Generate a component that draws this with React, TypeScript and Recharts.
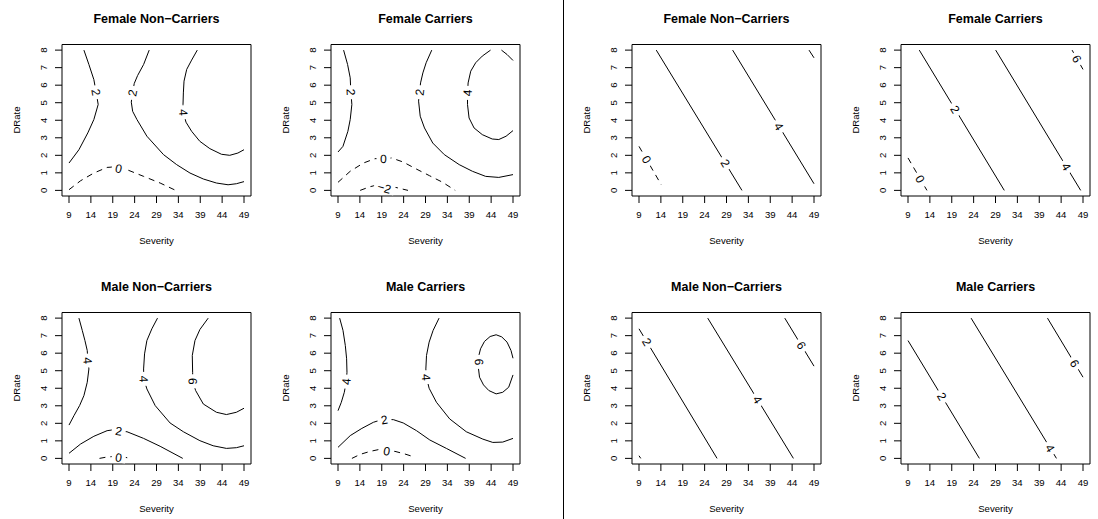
import React from "react";
import { ComposedChart, Line, Scatter, XAxis, YAxis, ReferenceArea } from "recharts";

type Pt = [number, number];
type Lab = [number, number, string];

const severityTicks = [9, 14, 19, 24, 29, 34, 39, 44, 49];
const drateTicks = [0, 1, 2, 3, 4, 5, 6, 7, 8];

// ---- left figure, Female Non-Carriers
const lfn2a: Pt[] = [[12.41, 8], [13.55, 7.18], [14.68, 6.32], [15.2, 5.6], [15.67, 4.9], [14.68, 4.04], [13.3, 3.28], [11.27, 2.32], [9.0, 1.56]];
const lfn2b: Pt[] = [[27.33, 8], [26.05, 7.18], [24.68, 6.55], [23.92, 6.1], [23.5, 5.56], [23.24, 5.03], [23.55, 4.51], [24.53, 4.04], [26.8, 3.09], [30.6, 2.04], [33.6, 1.47], [36.65, 0.99], [39.7, 0.65], [42.7, 0.42], [45.36, 0.32], [47.26, 0.38], [49.0, 0.5]];
const lfn4: Pt[] = [[38.32, 8], [37.03, 7.43], [35.9, 6.9], [35.29, 6.23], [35.14, 5.56], [35.06, 4.9], [35.15, 4.45], [35.74, 3.89], [37.03, 3.37], [38.9, 2.8], [41.2, 2.38], [43.85, 2.06], [45.74, 2.0], [47.6, 2.13], [49.0, 2.32]];
const lfn0: Pt[] = [[9.0, 0.04], [11.65, 0.55], [14.68, 0.99], [17.7, 1.31], [18.85, 1.33], [20.36, 1.25], [22.26, 1.18], [26.05, 0.8], [29.83, 0.42], [33.39, 0]];
const lfnLabels: Lab[] = [[15.2, 5.6, "2"], [23.5, 5.56, "2"], [35.15, 4.45, "4"], [20.36, 1.25, "0"]];

// ---- left figure, Female Carriers
const lfc2a: Pt[] = [[10.28, 8], [11.19, 7.18], [11.79, 6.42], [11.94, 5.6], [12.17, 4.9], [11.79, 4.04], [11.26, 3.37], [10.13, 2.51], [9.0, 2.19]];
const lfc2b: Pt[] = [[30.43, 8], [29.15, 7.28], [28.4, 6.7], [27.87, 6.13], [27.64, 5.6], [27.42, 5.09], [27.79, 4.23], [28.77, 3.56], [30.66, 2.7], [33.3, 2.04], [36.7, 1.47], [39.72, 1.09], [42.74, 0.8], [45.75, 0.74], [49.0, 0.9]];
const lfc4a: Pt[] = [[43.87, 8], [41.98, 7.66], [40.47, 7.28], [39.34, 6.8], [38.74, 6.13], [38.6, 5.56], [38.6, 4.9], [38.96, 4.13], [40.1, 3.56], [41.98, 3.18], [44.25, 2.93], [45.75, 2.9], [47.42, 3.09], [49.0, 3.41]];
const lfc4b: Pt[] = [[46.36, 8], [47.64, 7.75], [49.0, 7.41]];
const lfc0: Pt[] = [[9.0, 0.46], [11.79, 1.09], [14.81, 1.56], [17.45, 1.81], [19.4, 1.8], [21.23, 1.85], [23.87, 1.62], [26.89, 1.22], [29.9, 0.84], [32.92, 0.46], [35.79, 0]];
const lfcm2: Pt[] = [[14.06, 0], [16.32, 0.21], [17.68, 0.29], [19.6, 0.15], [22.2, 0.17], [25.0, 0]];
const lfcLabels: Lab[] = [[11.94, 5.6, "2"], [27.64, 5.6, "2"], [38.6, 5.56, "4"], [19.4, 1.8, "0"], [19.6, 0.15, "\u22122"]];

// ---- left figure, Male Non-Carriers
const lmn4a: Pt[] = [[11.27, 8], [12.03, 7.3], [12.64, 6.72], [13.17, 6.15], [13.32, 5.58], [13.55, 5.1], [13.17, 4.34], [12.41, 3.58], [11.42, 3.01], [10.14, 2.44], [9.0, 1.9]];
const lmn4b: Pt[] = [[29.23, 8], [27.94, 7.39], [26.8, 6.72], [26.27, 5.96], [26.05, 5.1], [26.1, 4.53], [26.8, 3.96], [28.7, 3.01], [32.1, 2.02], [35.14, 1.52], [38.92, 1.01], [41.95, 0.72], [44.98, 0.57], [47.26, 0.61], [49.0, 0.72]];
const lmn6: Pt[] = [[40.82, 8], [38.92, 7.35], [37.79, 6.72], [37.18, 5.87], [37.26, 4.91], [37.3, 4.4], [37.94, 3.87], [39.7, 3.1], [42.7, 2.63], [44.98, 2.5], [47.26, 2.63], [49.0, 2.86]];
const lmn2: Pt[] = [[9.0, 0.29], [11.65, 0.82], [14.68, 1.26], [17.71, 1.58], [18.85, 1.62], [20.36, 1.56], [22.26, 1.52], [26.05, 1.14], [29.83, 0.69], [35.0, 0]];
const lmn0: Pt[] = [[15.97, 0], [17.71, 0.08], [18.85, 0.1], [20.36, 0.05], [21.88, 0.06], [23.0, 0]];
const lmnLabels: Lab[] = [[13.32, 5.58, "4"], [26.1, 4.53, "4"], [37.3, 4.4, "6"], [20.36, 1.56, "2"], [20.36, 0.05, "0"]];

// ---- left figure, Male Carriers
const lmc4a: Pt[] = [[9.38, 8], [10.14, 7.3], [10.67, 6.44], [10.97, 5.68], [11.05, 4.91], [10.89, 4.38], [10.44, 3.77], [9.76, 3.2], [9.0, 2.72]];
const lmc4b: Pt[] = [[32.1, 8], [30.74, 7.3], [29.83, 6.63], [29.23, 5.87], [29.08, 5.1], [29.2, 4.63], [29.83, 4.0], [31.5, 3.2], [34.53, 2.25], [38.32, 1.52], [42.1, 1.1], [44.38, 0.91], [46.65, 0.93], [49.0, 1.14]];
const lmc6: Pt[] = [[49.0, 5.71], [48.55, 6.15], [47.64, 6.63], [46.42, 6.93], [45.14, 7.05], [43.77, 6.95], [42.48, 6.67], [41.58, 6.25], [41.2, 5.87], [41.25, 5.5], [41.12, 5.1], [41.35, 4.63], [42.26, 4.19], [43.47, 3.87], [45.14, 3.68], [46.65, 3.77], [48.02, 4.06], [49.0, 4.76]];
const lmc2: Pt[] = [[9.0, 0.63], [11.8, 1.3], [14.45, 1.71], [17.1, 2.06], [18.24, 2.15], [19.6, 2.21], [21.65, 2.21], [23.92, 2.02], [26.95, 1.58], [29.98, 1.05], [33.77, 0.57], [38.17, 0]];
const lmc0: Pt[] = [[12.18, 0], [14.08, 0.23], [16.35, 0.4], [18.24, 0.5], [20.14, 0.42], [22.03, 0.4], [24.3, 0.25], [26.05, 0.11]];
const lmcLabels: Lab[] = [[10.89, 4.38, "4"], [29.2, 4.63, "4"], [41.25, 5.5, "6"], [19.6, 2.21, "2"], [20.14, 0.42, "0"]];

// ---- right figure, Female Non-Carriers
const rfn2: Pt[] = [[12.95, 8], [32.53, 0]];
const rfn4: Pt[] = [[30.4, 8], [49.0, 0.38]];
const rfn6: Pt[] = [[47.86, 8], [49.0, 7.56]];
const rfn0: Pt[] = [[9.0, 2.51], [14.09, 0.32]];
const rfnLabels: Lab[] = [[28.73, 1.55, "2"], [41.0, 3.65, "4"], [10.75, 1.76, "0"]];

// ---- right figure, Female Carriers
const rfc2: Pt[] = [[11.58, 8], [31.01, 0]];
const rfc4: Pt[] = [[29.04, 8], [48.47, 0]];
const rfc6: Pt[] = [[46.5, 8], [49.0, 6.9]];
const rfc0: Pt[] = [[9.0, 1.85], [13.33, 0]];
const rfcLabels: Lab[] = [[19.8, 4.62, "2"], [45.2, 1.35, "4"], [47.63, 7.5, "6"], [11.81, 0.65, "0"]];

// ---- right figure, Male Non-Carriers
const rmn2: Pt[] = [[9.0, 7.39], [26.84, 0]];
const rmn4: Pt[] = [[24.71, 8], [44.29, 0]];
const rmn6: Pt[] = [[42.32, 8], [49.0, 5.26]];
const rmn0: Pt[] = [[9.0, 0.15], [9.4, 0]];
const rmnLabels: Lab[] = [[10.8, 6.64, "2"], [36.1, 3.35, "4"], [46.12, 6.44, "6"]];

// ---- right figure, Male Carriers
const rmc2: Pt[] = [[9.0, 6.72], [25.32, 0]];
const rmc4: Pt[] = [[23.42, 8], [42.93, 0]];
const rmc6: Pt[] = [[40.88, 8], [49.0, 4.63]];
const rmcLabels: Lab[] = [[16.74, 3.53, "2"], [41.5, 0.586, "4"], [47.1, 5.42, "6"]];

type Contour = { pts: Pt[]; level: number };
type PanelDef = { title: string; left: number; top: number; lines: Contour[]; labels: Lab[] };

const panels: PanelDef[] = [
  { title: "Female Non\u2212Carriers", left: 0, top: 0, labels: lfnLabels,
    lines: [{ pts: lfn2a, level: 2 }, { pts: lfn2b, level: 2 }, { pts: lfn4, level: 4 }, { pts: lfn0, level: 0 }] },
  { title: "Female Carriers", left: 269, top: 0, labels: lfcLabels,
    lines: [{ pts: lfc2a, level: 2 }, { pts: lfc2b, level: 2 }, { pts: lfc4a, level: 4 }, { pts: lfc4b, level: 4 }, { pts: lfc0, level: 0 }, { pts: lfcm2, level: -2 }] },
  { title: "Female Non\u2212Carriers", left: 570, top: 0, labels: rfnLabels,
    lines: [{ pts: rfn2, level: 2 }, { pts: rfn4, level: 4 }, { pts: rfn6, level: 6 }, { pts: rfn0, level: 0 }] },
  { title: "Female Carriers", left: 839, top: 0, labels: rfcLabels,
    lines: [{ pts: rfc2, level: 2 }, { pts: rfc4, level: 4 }, { pts: rfc6, level: 6 }, { pts: rfc0, level: 0 }] },
  { title: "Male Non\u2212Carriers", left: 0, top: 268, labels: lmnLabels,
    lines: [{ pts: lmn4a, level: 4 }, { pts: lmn4b, level: 4 }, { pts: lmn6, level: 6 }, { pts: lmn2, level: 2 }, { pts: lmn0, level: 0 }] },
  { title: "Male Carriers", left: 269, top: 268, labels: lmcLabels,
    lines: [{ pts: lmc4a, level: 4 }, { pts: lmc4b, level: 4 }, { pts: lmc6, level: 6 }, { pts: lmc2, level: 2 }, { pts: lmc0, level: 0 }] },
  { title: "Male Non\u2212Carriers", left: 570, top: 268, labels: rmnLabels,
    lines: [{ pts: rmn2, level: 2 }, { pts: rmn4, level: 4 }, { pts: rmn6, level: 6 }, { pts: rmn0, level: 0 }] },
  { title: "Male Carriers", left: 839, top: 268, labels: rmcLabels,
    lines: [{ pts: rmc2, level: 2 }, { pts: rmc4, level: 4 }, { pts: rmc6, level: 6 }] },
];

const FONT = '"Liberation Sans", Arial, Helvetica, sans-serif';
const W = 268;
const H = 268;
const Y_AXIS_W = 40;
const X_AXIS_H = 52;
const M = { top: 44.5, right: 17, bottom: 20, left: 22 };
const X_DOM: [number, number] = [7.4, 50.6];
const Y_DOM: [number, number] = [-0.32, 8.32];
const PW = W - M.left - Y_AXIS_W - M.right;
const PH = H - M.top - M.bottom - X_AXIS_H;
const KX = PW / (X_DOM[1] - X_DOM[0]);
const KY = PH / (Y_DOM[1] - Y_DOM[0]);
const PLOT_L = M.left + Y_AXIS_W;
const TICK_FS = 9.6;
const LAB_FS = 12;

// rotate each label along the nearest contour segment (in pixel space)
function labelAngle(x: number, y: number, lines: Contour[]) {
  let best = Infinity;
  let ang = 0;
  const px = x * KX, py = -y * KY;
  for (const ln of lines) {
    for (let i = 0; i < ln.pts.length - 1; i++) {
      const ax = ln.pts[i][0] * KX, ay = -ln.pts[i][1] * KY;
      const bx = ln.pts[i + 1][0] * KX, by = -ln.pts[i + 1][1] * KY;
      const dx = bx - ax, dy = by - ay;
      let t = ((px - ax) * dx + (py - ay) * dy) / (dx * dx + dy * dy);
      t = Math.max(0, Math.min(1, t));
      const d = Math.hypot(ax + t * dx - px, ay + t * dy - py);
      if (d < best) {
        best = d;
        ang = (Math.atan2(dy, dx) * 180) / Math.PI;
      }
    }
  }
  if (ang > 90) ang -= 180;
  if (ang <= -90) ang += 180;
  return ang;
}

const ContourLabel = (props: any) => {
  const { cx, cy, payload } = props;
  const w = payload.text.length * 7 + 7;
  return (
    <g transform={`translate(${cx},${cy}) rotate(${payload.angle})`}>
      <rect x={-w / 2} y={-5} width={w} height={10} fill="#fff" />
      <text textAnchor="middle" dy="0.36em" fontSize={LAB_FS} fontFamily={FONT} fill="#000">
        {payload.text}
      </text>
    </g>
  );
};

const XTick = (props: any) => (
  <text x={props.x} y={props.y} dy="0.71em" textAnchor="middle" fontSize={TICK_FS} fontFamily={FONT} fill="#000">
    {props.payload.value}
  </text>
);

const YTick = (props: any) => (
  <text x={props.x} y={props.y} transform={`rotate(-90 ${props.x} ${props.y})`} textAnchor="middle" fontSize={TICK_FS} fontFamily={FONT} fill="#000">
    {props.payload.value}
  </text>
);

function Panel({ def }: { def: PanelDef }) {
  const labData = def.labels.map(([x, y, text]) => ({ x, y, text, angle: labelAngle(x, y, def.lines) }));
  const cx = PLOT_L + PW / 2;
  return (
    <div style={{ position: "absolute", left: def.left, top: def.top, width: W, height: H }}>
      <ComposedChart width={W} height={H} margin={M}>
        <XAxis type="number" dataKey="x" domain={X_DOM} ticks={severityTicks} interval={0} allowDataOverflow
          height={X_AXIS_H} tickSize={7} tickMargin={8} axisLine={false} stroke="#000" tick={XTick} />
        <YAxis type="number" dataKey="y" domain={Y_DOM} ticks={drateTicks} interval={0} allowDataOverflow
          width={Y_AXIS_W} tickSize={7} tickMargin={8} axisLine={false} stroke="#000" tick={YTick} />
        <ReferenceArea x1={X_DOM[0]} x2={X_DOM[1]} y1={Y_DOM[0]} y2={Y_DOM[1]} fill="none" fillOpacity={0} stroke="#000" strokeWidth={1} strokeOpacity={1} />
        {def.lines.map((ln, i) => (
          <Line key={i} data={ln.pts.map(([x, y]) => ({ x, y }))} dataKey="y" type="linear" stroke="#000" strokeWidth={1}
            strokeDasharray={ln.level <= 0 ? "6 5" : undefined} dot={false} activeDot={false} isAnimationActive={false} />
        ))}
        <Scatter data={labData} dataKey="y" shape={ContourLabel} isAnimationActive={false} />
      </ComposedChart>
      <div style={{ position: "absolute", left: cx - 110, width: 220, top: 12, textAlign: "center", fontFamily: FONT, fontWeight: "bold", fontSize: 12.5, lineHeight: "14px" }}>
        {def.title}
      </div>
      <div style={{ position: "absolute", left: cx - 50, width: 100, top: 234.5, textAlign: "center", fontFamily: FONT, fontSize: TICK_FS, lineHeight: "12px" }}>
        Severity
      </div>
      <div style={{ position: "absolute", left: 16.7 - 50, width: 100, top: M.top + PH / 2 - 6, textAlign: "center", fontFamily: FONT, fontSize: TICK_FS, lineHeight: "12px", transform: "rotate(-90deg)" }}>
        DRate
      </div>
    </div>
  );
}

export default function App() {
  return (
    <div style={{ position: "absolute", left: 0, top: 0, width: 1098, height: 519, background: "#fff", overflow: "hidden" }}>
      {panels.map((p, i) => (
        <Panel key={i} def={p} />
      ))}
      <div style={{ position: "absolute", left: 563, top: 0, width: 1, height: 519, background: "#000" }} />
    </div>
  );
}
